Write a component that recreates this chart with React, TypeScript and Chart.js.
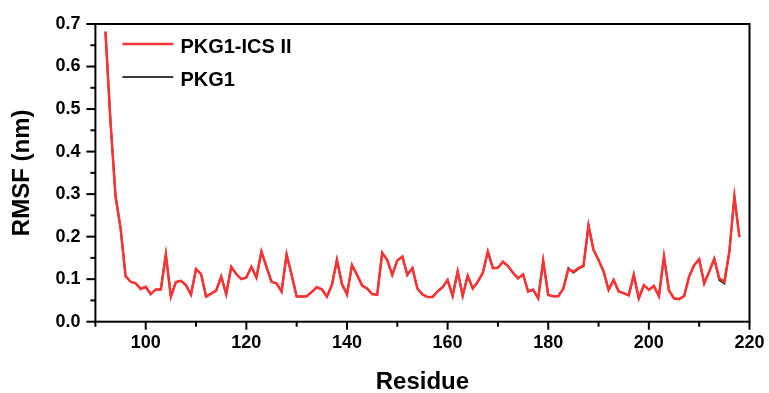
import React, { useEffect, useRef } from "react";
import { Chart, registerables } from "chart.js";

Chart.register(...registerables);

const firstResidue = 92;

const rmsfPKG1ICS: number[] = [
  0.682, 0.47, 0.295, 0.22, 0.107, 0.094, 0.09, 0.077, 0.082, 0.065,
  0.076, 0.076, 0.158, 0.059, 0.093, 0.096, 0.086, 0.064, 0.124, 0.112,
  0.059, 0.066, 0.073, 0.106, 0.065, 0.129, 0.112, 0.1, 0.104, 0.129,
  0.104, 0.165, 0.129, 0.094, 0.09, 0.071, 0.158, 0.11, 0.059, 0.059,
  0.06, 0.07, 0.081, 0.076, 0.059, 0.086, 0.145, 0.089, 0.064, 0.133,
  0.11, 0.085, 0.078, 0.065, 0.063, 0.162, 0.145, 0.11, 0.144, 0.153,
  0.11, 0.126, 0.078, 0.064, 0.058, 0.058, 0.071, 0.081, 0.098, 0.061,
  0.118, 0.061, 0.108, 0.078, 0.094, 0.115, 0.165, 0.126, 0.127, 0.141,
  0.131, 0.115, 0.102, 0.111, 0.071, 0.075, 0.055, 0.143, 0.063, 0.06,
  0.06, 0.078, 0.123, 0.118, 0.126, 0.132, 0.225, 0.169, 0.145, 0.118,
  0.075, 0.098, 0.071, 0.067, 0.062, 0.11, 0.055, 0.086, 0.075, 0.084,
  0.06, 0.153, 0.073, 0.055, 0.053, 0.06, 0.106, 0.133, 0.147, 0.09,
  0.118, 0.148, 0.102, 0.094, 0.165, 0.294, 0.199,
];

const rmsfPKG1: number[] = [
  0.682, 0.47, 0.295, 0.22, 0.107, 0.094, 0.09, 0.077, 0.082, 0.065,
  0.076, 0.076, 0.158, 0.059, 0.093, 0.096, 0.086, 0.064, 0.124, 0.112,
  0.059, 0.066, 0.073, 0.106, 0.065, 0.129, 0.112, 0.1, 0.104, 0.129,
  0.104, 0.165, 0.129, 0.094, 0.09, 0.071, 0.158, 0.11, 0.059, 0.059,
  0.06, 0.07, 0.081, 0.076, 0.059, 0.086, 0.145, 0.089, 0.064, 0.133,
  0.11, 0.085, 0.078, 0.065, 0.063, 0.162, 0.145, 0.11, 0.144, 0.153,
  0.11, 0.126, 0.078, 0.064, 0.058, 0.058, 0.071, 0.081, 0.098, 0.061,
  0.118, 0.061, 0.108, 0.078, 0.094, 0.115, 0.165, 0.126, 0.127, 0.141,
  0.131, 0.115, 0.102, 0.111, 0.071, 0.075, 0.055, 0.143, 0.063, 0.06,
  0.06, 0.078, 0.126, 0.115, 0.124, 0.13, 0.228, 0.169, 0.145, 0.118,
  0.075, 0.098, 0.071, 0.067, 0.062, 0.11, 0.055, 0.086, 0.075, 0.084,
  0.06, 0.153, 0.073, 0.055, 0.053, 0.06, 0.106, 0.133, 0.147, 0.09,
  0.118, 0.148, 0.098, 0.09, 0.165, 0.294, 0.199,
];

const residues: number[] = rmsfPKG1ICS.map((_, i) => firstResidue + i);

const seriesLabels = ["PKG1-ICS II", "PKG1"];
const seriesColors = ["#ff3333", "#3a3a3a"];

const xMajorTicks = [100, 120, 140, 160, 180, 200, 220];
const xMinorTicks = [90, 110, 130, 150, 170, 190, 210];
const yMajorTicks = [0, 0.1, 0.2, 0.3, 0.4, 0.5, 0.6, 0.7];
const yMinorTicks = [0.05, 0.15, 0.25, 0.35, 0.45, 0.55, 0.65];

const FONT = "'Liberation Sans', Arial, sans-serif";

const decorPlugin = {
  id: "decor",
  afterDraw(chart: any) {
    const { ctx, chartArea: ca, scales } = chart;
    const xs = scales.x;
    const ys = scales.y;
    ctx.save();
    ctx.strokeStyle = "#000";
    ctx.lineWidth = 2;
    ctx.lineCap = "butt";
    ctx.strokeRect(ca.left, ca.top, ca.right - ca.left, ca.bottom - ca.top);
    const seg = (x1: number, y1: number, x2: number, y2: number) => {
      ctx.beginPath();
      ctx.moveTo(x1, y1);
      ctx.lineTo(x2, y2);
      ctx.stroke();
    };
    for (const v of yMajorTicks) {
      const p = ys.getPixelForValue(v);
      seg(ca.left - 9, p, ca.left, p);
    }
    for (const v of yMinorTicks) {
      const p = ys.getPixelForValue(v);
      seg(ca.left - 5, p, ca.left, p);
    }
    for (const v of xMajorTicks) {
      const p = xs.getPixelForValue(v);
      seg(p, ca.bottom, p, ca.bottom + 8);
    }
    for (const v of xMinorTicks) {
      const p = xs.getPixelForValue(v);
      seg(p, ca.bottom, p, ca.bottom + 5);
    }
    // legend
    const lx = ca.left + 27;
    const rows = [ca.top + 20, ca.top + 53];
    ctx.font = `bold 20px ${FONT}`;
    ctx.textBaseline = "middle";
    ctx.textAlign = "left";
    chart.data.datasets.forEach((ds: any, i: number) => {
      const yy = rows[i];
      ctx.strokeStyle = ds.borderColor;
      ctx.lineWidth = i === 0 ? 2.5 : 2;
      seg(lx, yy, lx + 51, yy);
      ctx.fillStyle = "#000";
      ctx.fillText(ds.label, lx + 58, yy + 3);
    });
    ctx.restore();
  },
};

export default function App() {
  const canvasRef = useRef<HTMLCanvasElement | null>(null);

  useEffect(() => {
    document.body.style.margin = "0";
    const canvas = canvasRef.current;
    if (!canvas) return;
    const datasets = [rmsfPKG1ICS, rmsfPKG1].map((vals, i) => ({
      label: seriesLabels[i],
      data: vals.map((v, j) => ({ x: residues[j], y: v })),
      borderColor: seriesColors[i],
      backgroundColor: seriesColors[i],
      borderWidth: i === 0 ? 2.5 : 2,
      pointRadius: 0,
      tension: 0,
      fill: false,
    }));
    const chart = new Chart(canvas, {
      type: "line",
      data: { datasets },
      options: {
        animation: false,
        responsive: false,
        events: [],
        layout: { padding: { top: 24, right: 19.5, bottom: 0, left: 0 } },
        plugins: {
          legend: { display: false },
          tooltip: { enabled: false },
        },
        scales: {
          x: {
            type: "linear",
            min: 90,
            max: 220,
            afterFit: (s: any) => {
              s.height = 71.3;
              s.paddingLeft = 0;
              s.paddingRight = 0;
            },
            grid: { display: false, drawTicks: false },
            border: { display: false },
            ticks: {
              stepSize: 10,
              autoSkip: false,
              maxRotation: 0,
              padding: 11,
              color: "#000",
              font: { family: FONT, size: 18, weight: "bold" },
              callback: (v: any) => (xMajorTicks.includes(Number(v)) ? String(v) : ""),
            },
            title: {
              display: true,
              text: "Residue",
              color: "#000",
              font: { family: FONT, size: 24, weight: "bold", lineHeight: 1 },
              padding: { top: 0, bottom: -1 },
            },
          },
          y: {
            type: "linear",
            min: 0,
            max: 0.7,
            afterFit: (s: any) => {
              s.width = 95.4;
              s.paddingTop = 0;
              s.paddingBottom = 0;
            },
            grid: { display: false, drawTicks: false },
            border: { display: false },
            ticks: {
              stepSize: 0.1,
              padding: 15,
              color: "#000",
              font: { family: FONT, size: 18, weight: "bold" },
              callback: (v: any) => Number(v).toFixed(1),
            },
            title: {
              display: true,
              text: "RMSF (nm)",
              color: "#000",
              font: { family: FONT, size: 24, weight: "bold", lineHeight: 1 },
              padding: { top: 10, bottom: 0 },
            },
          },
        },
      },
      plugins: [decorPlugin],
    } as any);
    return () => chart.destroy();
  }, []);

  return (
    <div style={{ width: 769, height: 393, background: "#fff" }}>
      <canvas ref={canvasRef} width={769} height={393} />
    </div>
  );
}
